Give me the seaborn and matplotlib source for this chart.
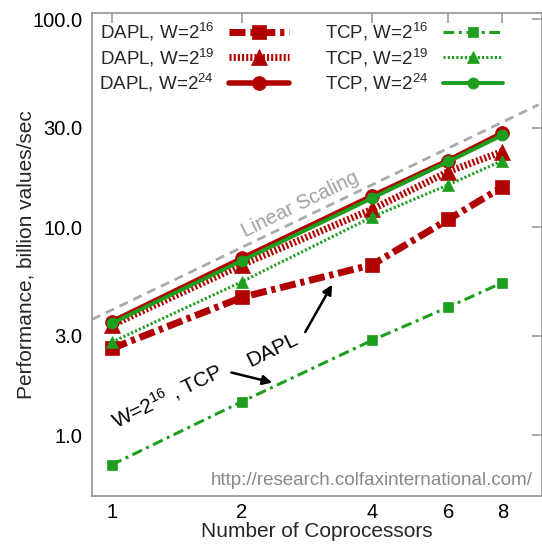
import matplotlib
matplotlib.use("Agg")
import matplotlib.pyplot as plt
import seaborn as sns
import pandas as pd

# values
coprocessors = [1, 2, 4, 6, 8]
dapl_16 = [2.61, 4.6, 6.6, 10.9, 15.6]
dapl_19 = [3.38, 6.6, 12.2, 18.5, 23.1]
dapl_24 = [3.5, 7.07, 14.1, 20.9, 28.3]
tcp_16 = [0.72, 1.45, 2.86, 4.13, 5.41]
tcp_19 = [2.8, 5.47, 11.2, 16.0, 20.9]
tcp_24 = [3.45, 6.9, 13.8, 20.7, 27.7]
linear_x = [0.9, 9.7]
linear_y = [3.6, 38.8]

y_ticks = [1, 3, 10, 30, 100]
y_tick_labels = ["1.0", "3.0", "10.0", "30.0", "100.0"]
x_tick_labels = ["1", "2", "4", "6", "8"]

RED = "#B00000"
GREEN = "#1E9E1E"

sns.set_theme(style="white")
plt.rcParams["font.family"] = ["Liberation Sans", "DejaVu Sans"]
plt.rcParams["mathtext.fontset"] = "custom"
plt.rcParams["mathtext.rm"] = "Liberation Sans"
plt.rcParams["mathtext.it"] = "Liberation Sans:italic"

# label, values, color, linewidth, dash pattern, marker, marker size
series = [
    ("DAPL, W=$2^{16}$", dapl_16, RED, 5.0, (2.3, 0.7, 0.6, 0.7), "s", 10),
    ("DAPL, W=$2^{19}$", dapl_19, RED, 5.0, (0.3, 0.3), "^", 11),
    ("DAPL, W=$2^{24}$", dapl_24, RED, 4.0, None, "o", 10),
    ("TCP, W=$2^{16}$", tcp_16, GREEN, 2.2, (3.5, 1.5, 1.0, 1.5), "s", 7),
    ("TCP, W=$2^{19}$", tcp_19, GREEN, 2.2, (0.7, 0.7), "^", 8),
    ("TCP, W=$2^{24}$", tcp_24, GREEN, 2.8, None, "o", 8),
]

fig = plt.figure(figsize=(5.42, 5.45), dpi=100)
ax = fig.add_axes([0.1697, 0.090, 0.8295, 0.886])

sns.lineplot(x=linear_x, y=linear_y, ax=ax, color="#AAAAAA", lw=2.0,
             linestyle=(0, (3.3, 2.2)), zorder=1)

for label, vals, color, lw, dash, marker, ms in series:
    df = pd.DataFrame({"n": coprocessors, "perf": vals})
    ls = "-" if dash is None else (0, dash)
    sns.lineplot(data=df, x="n", y="perf", ax=ax, color=color, lw=lw,
                 linestyle=ls, marker=marker, markersize=ms,
                 markeredgecolor=color, markeredgewidth=0.5, label=label)

ax.set_xscale("log", base=2)
ax.set_yscale("log")
ax.set_xlim(0.9, 9.85)
ax.set_ylim(0.51, 107)
ax.set_xticks(coprocessors)
ax.set_xticklabels(x_tick_labels)
ax.set_yticks(y_ticks)
ax.set_yticklabels(y_tick_labels)
ax.minorticks_off()
ax.tick_params(which="both", direction="in", top=True, right=True,
               color="#999999", length=7, width=1.2, labelsize=14.5,
               labelcolor="black", pad=7)
ax.tick_params(axis="x", pad=5)
for sp in ax.spines.values():
    sp.set_color("#999999")
    sp.set_linewidth(1.3)

ax.set_xlabel("Number of Coprocessors", fontsize=15, labelpad=0)
ax.set_ylabel("Performance, billion values/sec", fontsize=15)
ax.yaxis.set_label_coords(-0.125, 0.5)

ax.legend(ncol=2, loc="upper left", frameon=False, markerfirst=False,
          handlelength=3.2, fontsize=13.5, columnspacing=1.9,
          handletextpad=0.8, labelspacing=0.2, borderaxespad=0.1,
          borderpad=0.3)

ax.text(2.72, 12.9, "Linear Scaling", color="#A0A0A0", fontsize=14.5,
        rotation=26, ha="center", va="center", rotation_mode="anchor")
ax.text(1.34, 1.55, "W=$2^{16}$ , TCP", color="black", fontsize=15,
        rotation=26, ha="center", va="center", rotation_mode="anchor")
ax.text(2.35, 2.56, "DAPL", color="black", fontsize=15,
        rotation=26, ha="center", va="center", rotation_mode="anchor")

arrow = dict(arrowstyle="-|>", color="black", lw=1.8, mutation_scale=14,
             shrinkA=0, shrinkB=0)
ax.annotate("", xy=(2.35, 1.79), xytext=(1.89, 2.0), arrowprops=arrow)
ax.annotate("", xy=(3.23, 5.29), xytext=(2.80, 3.13), arrowprops=arrow)

ax.text(0.98, 0.033, "http://research.colfaxinternational.com/",
        transform=ax.transAxes, ha="right", va="center", color="#888888",
        fontsize=13.5)

fig.savefig("out.png", dpi=100)
